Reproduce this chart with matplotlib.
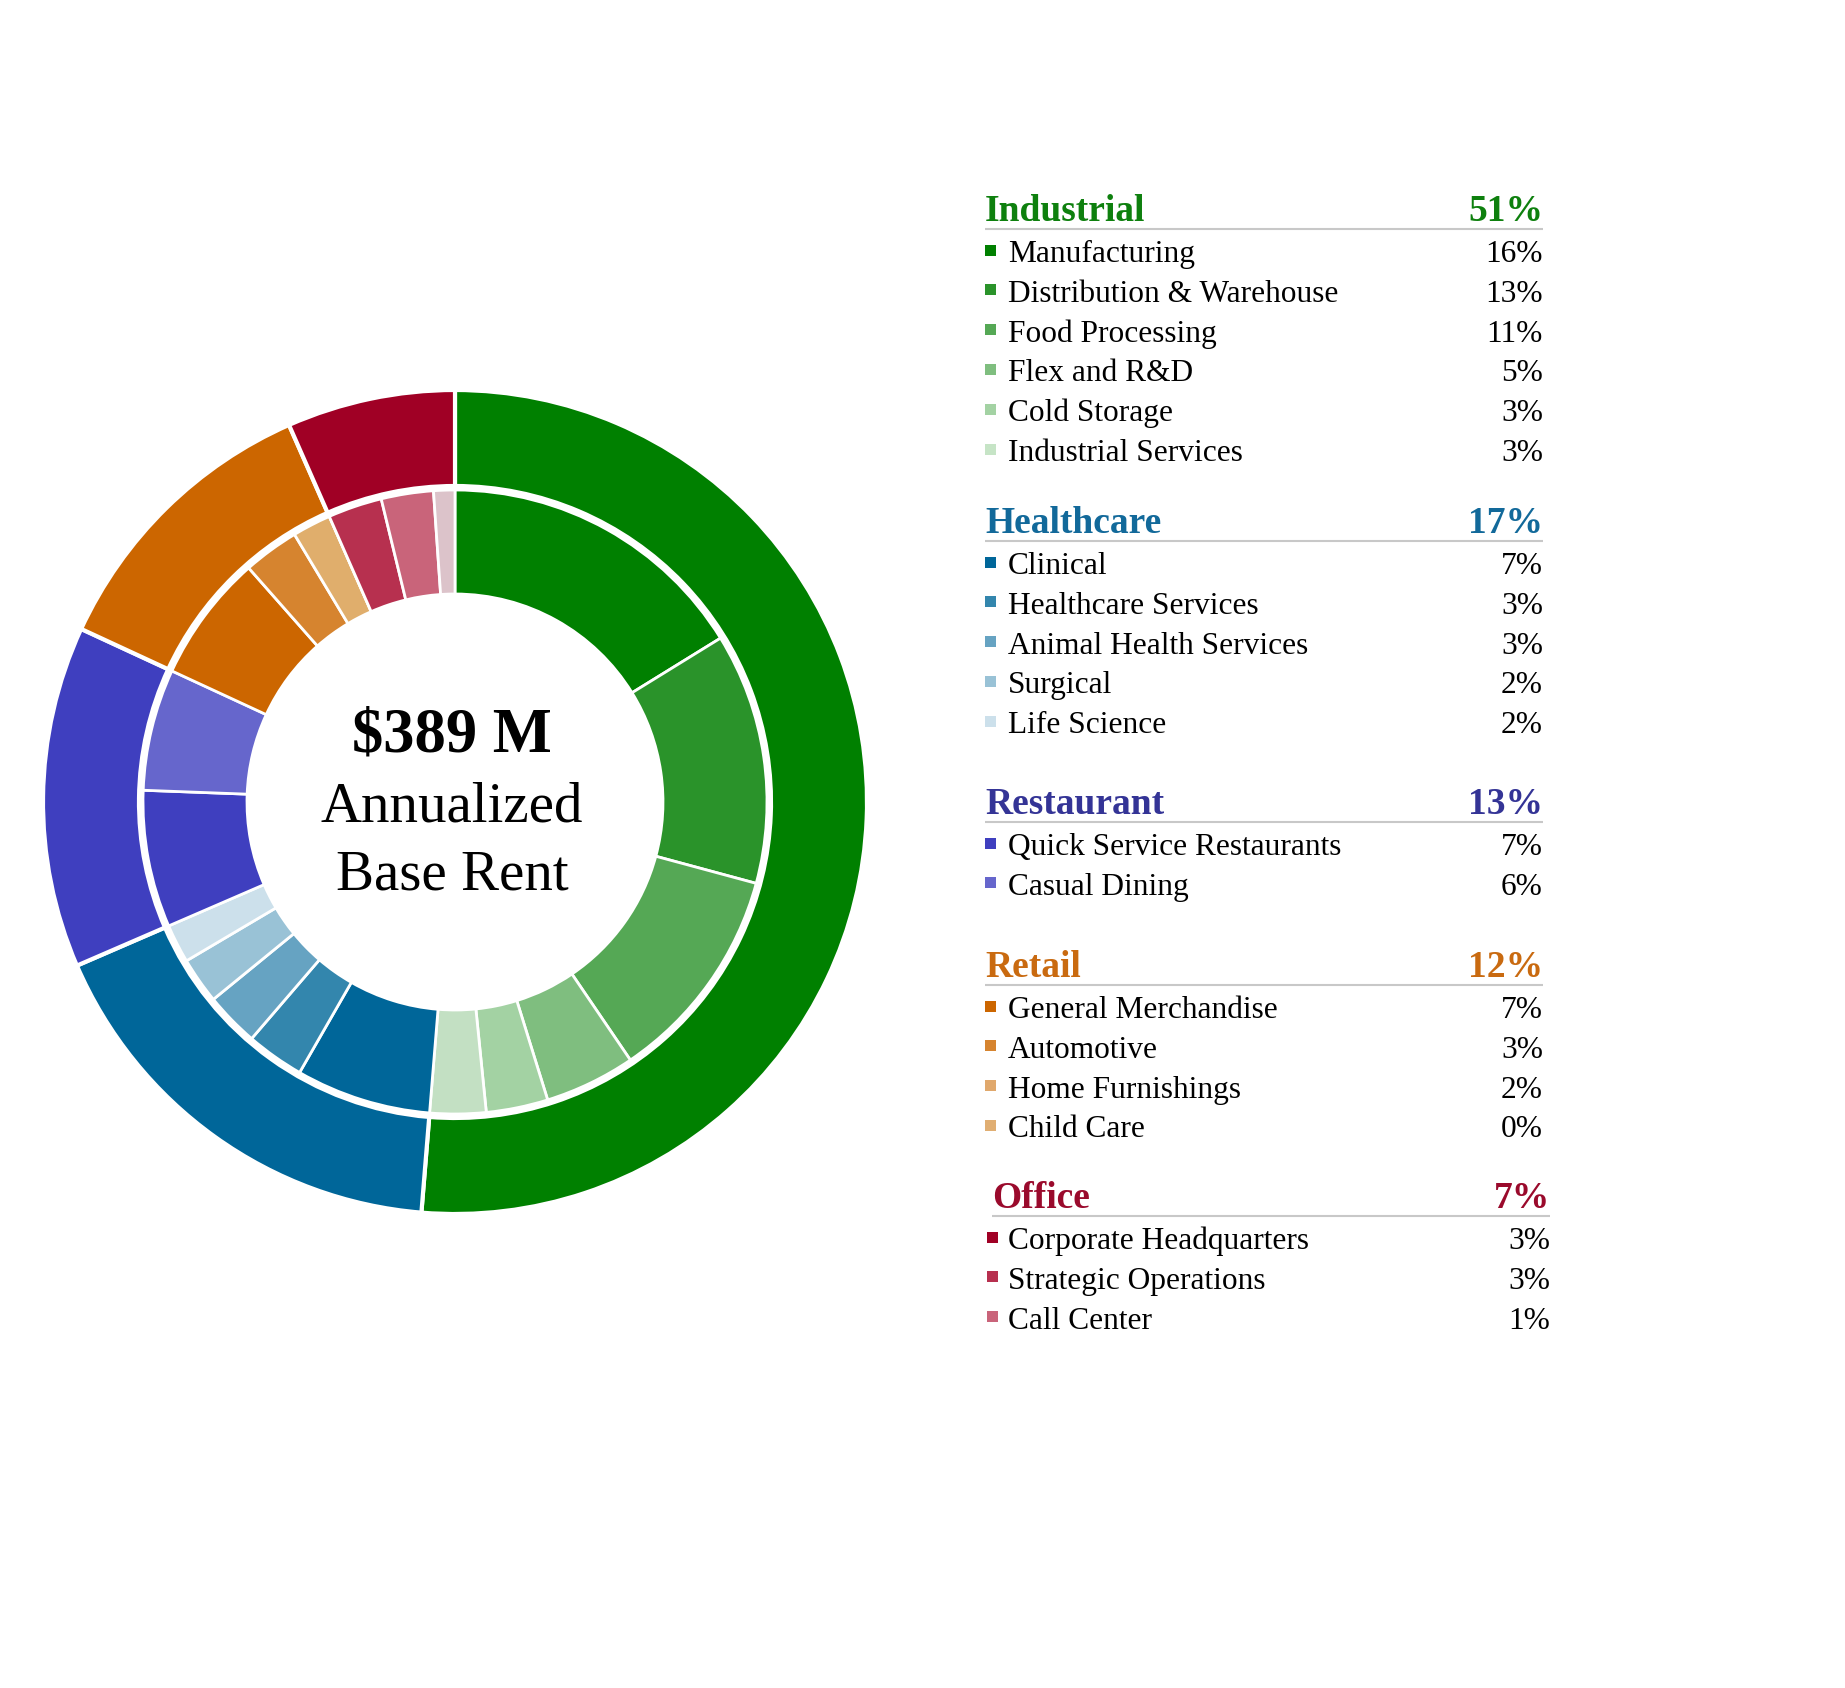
import matplotlib.pyplot as plt

plt.rcParams["font.family"] = ["Liberation Serif", "DejaVu Serif"]

# data (shares of annualized base rent, %)
groups = ["Industrial", "Healthcare", "Restaurant", "Retail", "Office"]
group_colors = ["#008000", "#006699", "#3f3fbf", "#cc6600", "#a00025"]
header_colors = ["#0e800e", "#12699a", "#343496", "#c96a10", "#9a0a2c"]

sub_names = [
    ["Manufacturing", "Distribution & Warehouse", "Food Processing",
     "Flex and R&D", "Cold Storage", "Industrial Services"],
    ["Clinical", "Healthcare Services", "Animal Health Services",
     "Surgical", "Life Science"],
    ["Quick Service Restaurants", "Casual Dining"],
    ["General Merchandise", "Automotive", "Home Furnishings", "Child Care"],
    ["Corporate Headquarters", "Strategic Operations", "Call Center"],
]
sub_pct = [
    [16.2, 13.0, 11.3, 4.7, 3.2, 2.9],
    [7.0, 3.0, 2.8, 2.4, 2.0],
    [7.1, 6.3],
    [6.6, 2.9, 2.0, 0.0],
    [2.8, 2.7, 1.1],
]
# legend marker colors
sub_colors = [
    ["#008000", "#2a932a", "#55a855", "#7fbe7f", "#a3d2a3", "#c6e4c6"],
    ["#006699", "#3386ad", "#66a3c2", "#99c2d6", "#cce0eb"],
    ["#3f3fbf", "#6666cc"],
    ["#cc6600", "#d6842f", "#e0a86c", "#e0ae72"],
    ["#a00025", "#b7304f", "#c9647a"],
]
# colors used in the inner ring
ring_colors = [
    ["#008000", "#2a932a", "#55a855", "#7fbe7f", "#a3d2a3", "#c3e0c3"],
    ["#006699", "#3386ad", "#66a3c2", "#99c2d6", "#cce0eb"],
    ["#3f3fbf", "#6666cc"],
    ["#cc6600", "#d6842f", "#e0ae6c", "#e0b070"],
    ["#b7304f", "#c9647a", "#dcc3ca"],
]

group_pct = [sum(g) for g in sub_pct]


def pct_label(v):
    return f"{int(v + 0.5)}%"


W, H = 1845, 1688
fig = plt.figure(figsize=(W / 100, H / 100), dpi=100)

# donut
cx, cy, R = 455, 802, 412
ax = fig.add_axes([(cx - R) / W, (H - cy - R) / H, 2 * R / W, 2 * R / H])
ax.pie(group_pct, colors=group_colors, radius=1.0, startangle=90,
       counterclock=False,
       wedgeprops=dict(width=(R - 316) / R, edgecolor="white", linewidth=3))
inner_vals = [v for g in sub_pct for v in g]
inner_cols = [c for g in ring_colors for c in g]
ax.pie(inner_vals, colors=inner_cols, radius=312 / R, startangle=90,
       counterclock=False,
       wedgeprops=dict(width=(312 - 208) / R, edgecolor="white", linewidth=2))
ax.set_xlim(-1, 1)
ax.set_ylim(-1, 1)
ax.set_aspect("auto")

# overlay in pixel coords
ov = fig.add_axes([0, 0, 1, 1])
ov.set_xlim(0, W)
ov.set_ylim(H, 0)
ov.axis("off")

ov.text(452, 752, "$389 M", fontsize=45, fontweight="bold", ha="center", va="baseline")
ov.text(452, 821, "Annualized", fontsize=41, ha="center", va="baseline")
ov.text(452, 889, "Base Rent", fontsize=41, ha="center", va="baseline")

header_y = [221, 533, 814, 977, 1208]
for i, g in enumerate(groups):
    hx = 992 if g == "Office" else 985
    rx = 1550 if g == "Office" else 1543
    mx = 992.5 if g == "Office" else 990.5
    y0 = header_y[i]
    ov.text(hx, y0, g, fontsize=27, fontweight="bold", color=header_colors[i],
            ha="left", va="baseline")
    ov.text(rx, y0, pct_label(group_pct[i]), fontsize=27, fontweight="bold",
            color=header_colors[i], ha="right", va="baseline")
    ov.plot([hx, rx], [y0 + 8, y0 + 8], color="#c8c8c8", lw=1.5,
            solid_capstyle="butt")
    for j, name in enumerate(sub_names[i]):
        yb = y0 + 41 + j * 39.8
        ov.add_patch(plt.Rectangle((mx - 5.5, yb - 17.5), 11, 11,
                                   color=sub_colors[i][j], lw=0))
        ov.text(1008, yb, name, fontsize=22.6, ha="left", va="baseline")
        ov.text(rx, yb, pct_label(sub_pct[i][j]), fontsize=22.6, ha="right",
                va="baseline")

fig.savefig("out.png", dpi=100, facecolor="white")
